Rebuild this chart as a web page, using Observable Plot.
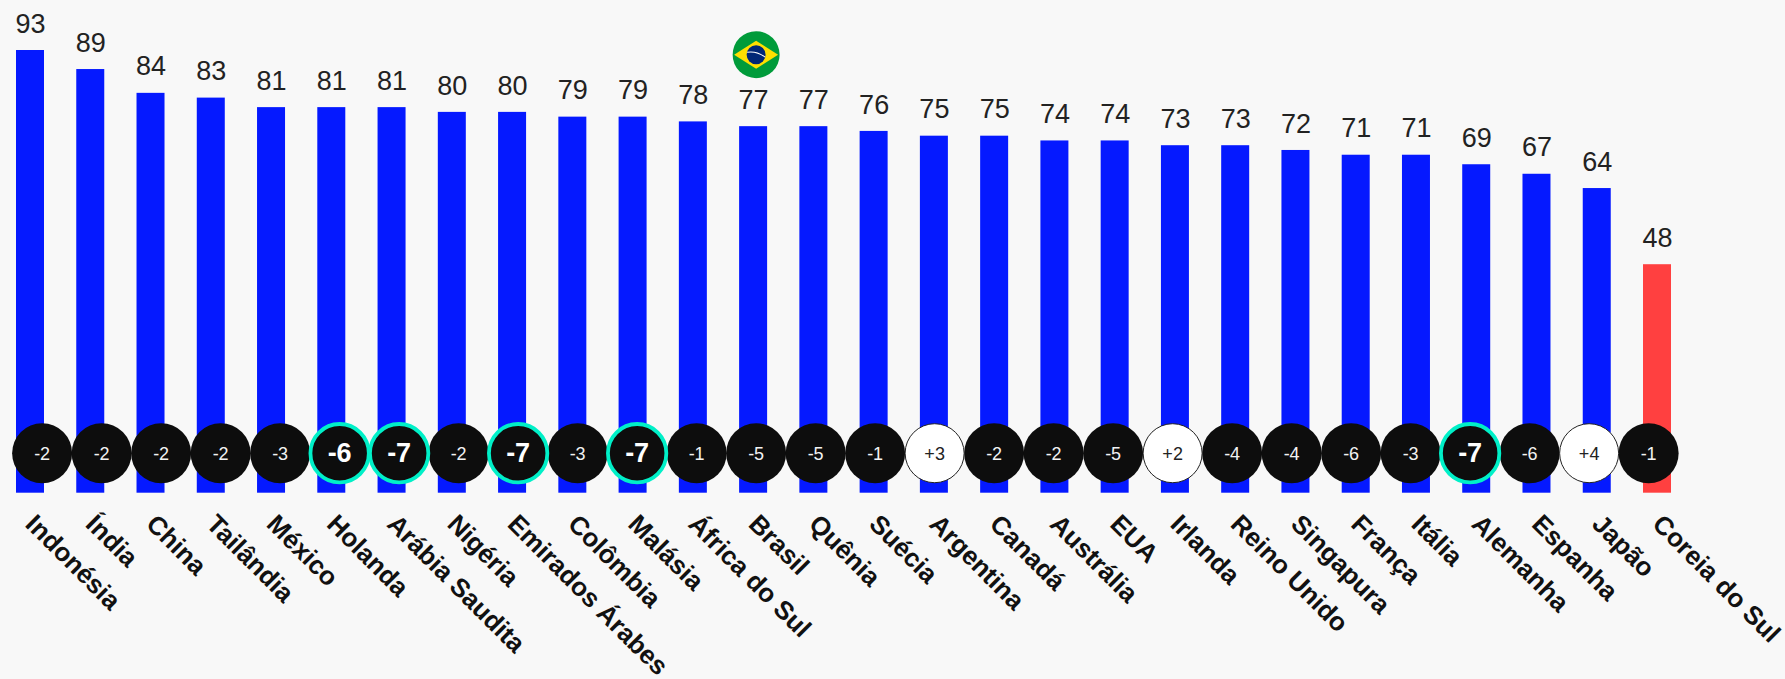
<!doctype html>
<html><head><meta charset="utf-8">
<style>html,body{margin:0;padding:0;background:#f8f8f8;height:679px;overflow:hidden}svg{display:block}</style>
<script src="https://cdn.jsdelivr.net/npm/d3@7"></script>
<script src="https://cdn.jsdelivr.net/npm/@observablehq/plot@0.6"></script>
</head><body><div id="chart"></div>
<script>
const countries = ["Indonésia","Índia","China","Tailândia","México","Holanda","Arábia Saudita","Nigéria","Emirados Árabes","Colômbia","Malásia","África do Sul","Brasil","Quênia","Suécia","Argentina","Canadá","Austrália","EUA","Irlanda","Reino Unido","Singapura","França","Itália","Alemanha","Espanha","Japão","Coreia do Sul"];
const values = [93,89,84,83,81,81,81,80,80,79,79,78,77,77,76,75,75,74,74,73,73,72,71,71,69,67,64,48];
const changes = [-2,-2,-2,-2,-3,-6,-7,-2,-7,-3,-7,-1,-5,-5,-1,3,-2,-2,-5,2,-4,-4,-6,-3,-7,-6,4,-1];
const highlighted = ["Holanda","Arábia Saudita","Emirados Árabes","Malásia","Alemanha"];
const redBar = "Coreia do Sul";
const flagCountry = "Brasil";

const table = countries.map((country,i)=>({country,i,value:values[i],change:changes[i],
  label:(changes[i]>0?"+":"")+changes[i]}));
const isHi = d=>highlighted.includes(d.country);
const hi = table.filter(isHi);
const norm = table.filter(d=>!isHi(d));

const barHalf = 0.2323, badgeStep = 0.98740, badgeShift = 0.193, badgeY = 8.4;
const bx = d=>d.i*badgeStep+badgeShift;
const font = "Liberation Sans, Arial, sans-serif";
const flagSvg = `<svg xmlns="http://www.w3.org/2000/svg" viewBox="0 0 48 48"><circle cx="24" cy="24" r="23.5" fill="#009b3a"/><path d="M2 24 24 10 46 24 24 38Z" fill="#fedf00"/><circle cx="24" cy="24" r="9.5" fill="#002776"/><path d="M15 21.5Q25 20 33 26.5" fill="none" stroke="#fff" stroke-width="1"/></svg>`;
const flagSrc = "data:image/svg+xml;charset=utf-8,"+encodeURIComponent(flagSvg);

const plot = Plot.plot({
  width:1785,height:679,marginTop:0,marginBottom:0,marginLeft:0,marginRight:0,
  style:{background:"#f8f8f8",fontFamily:font},
  x:{type:"linear",domain:[0,27],range:[30,1657],axis:null},
  y:{type:"linear",domain:[0,93],range:[492.7,50],axis:null},
  marks:[
    Plot.rectY(table,{x1:d=>d.i-barHalf,x2:d=>d.i+barHalf,y1:0,y2:"value",
      fill:d=>d.country===redBar?"#ff4040":"#0519ff"}),
    Plot.text(table,{x:"i",y:"value",text:d=>String(d.value),dy:-26.5,fontSize:27,fill:"#222"}),
    Plot.image(table.filter(d=>d.country===flagCountry),{x:"i",y:"value",src:()=>flagSrc,width:48,height:48,dx:2.5,dy:-72}),
    Plot.dot(norm,{x:bx,y:()=>badgeY,r:30,fill:"#0d0d0d",filter:d=>d.change<0}),
    Plot.dot(norm,{x:bx,y:()=>badgeY,r:29.5,fill:"#ffffff",stroke:"#222",strokeWidth:1,filter:d=>d.change>0}),
    Plot.dot(hi,{x:bx,y:()=>badgeY,r:29.2,fill:"#0d0d0d",stroke:"#00f0c8",strokeWidth:3.8}),
    Plot.text(norm,{x:bx,y:()=>badgeY,text:"label",dy:1.5,fontSize:18,fill:d=>d.change>0?"#222":"#f2f2f2"}),
    Plot.text(hi,{x:bx,y:()=>badgeY,text:"label",fontSize:27,fontWeight:"bold",fill:"#fff"}),
    Plot.text(table,{x:"i",y:()=>0,text:"country",rotate:45,textAnchor:"start",dx:-0.5,dy:26.5,fontSize:26,fontWeight:"bold",fill:"#111"})
  ]
});
document.getElementById("chart").append(plot);
</script></body></html>
